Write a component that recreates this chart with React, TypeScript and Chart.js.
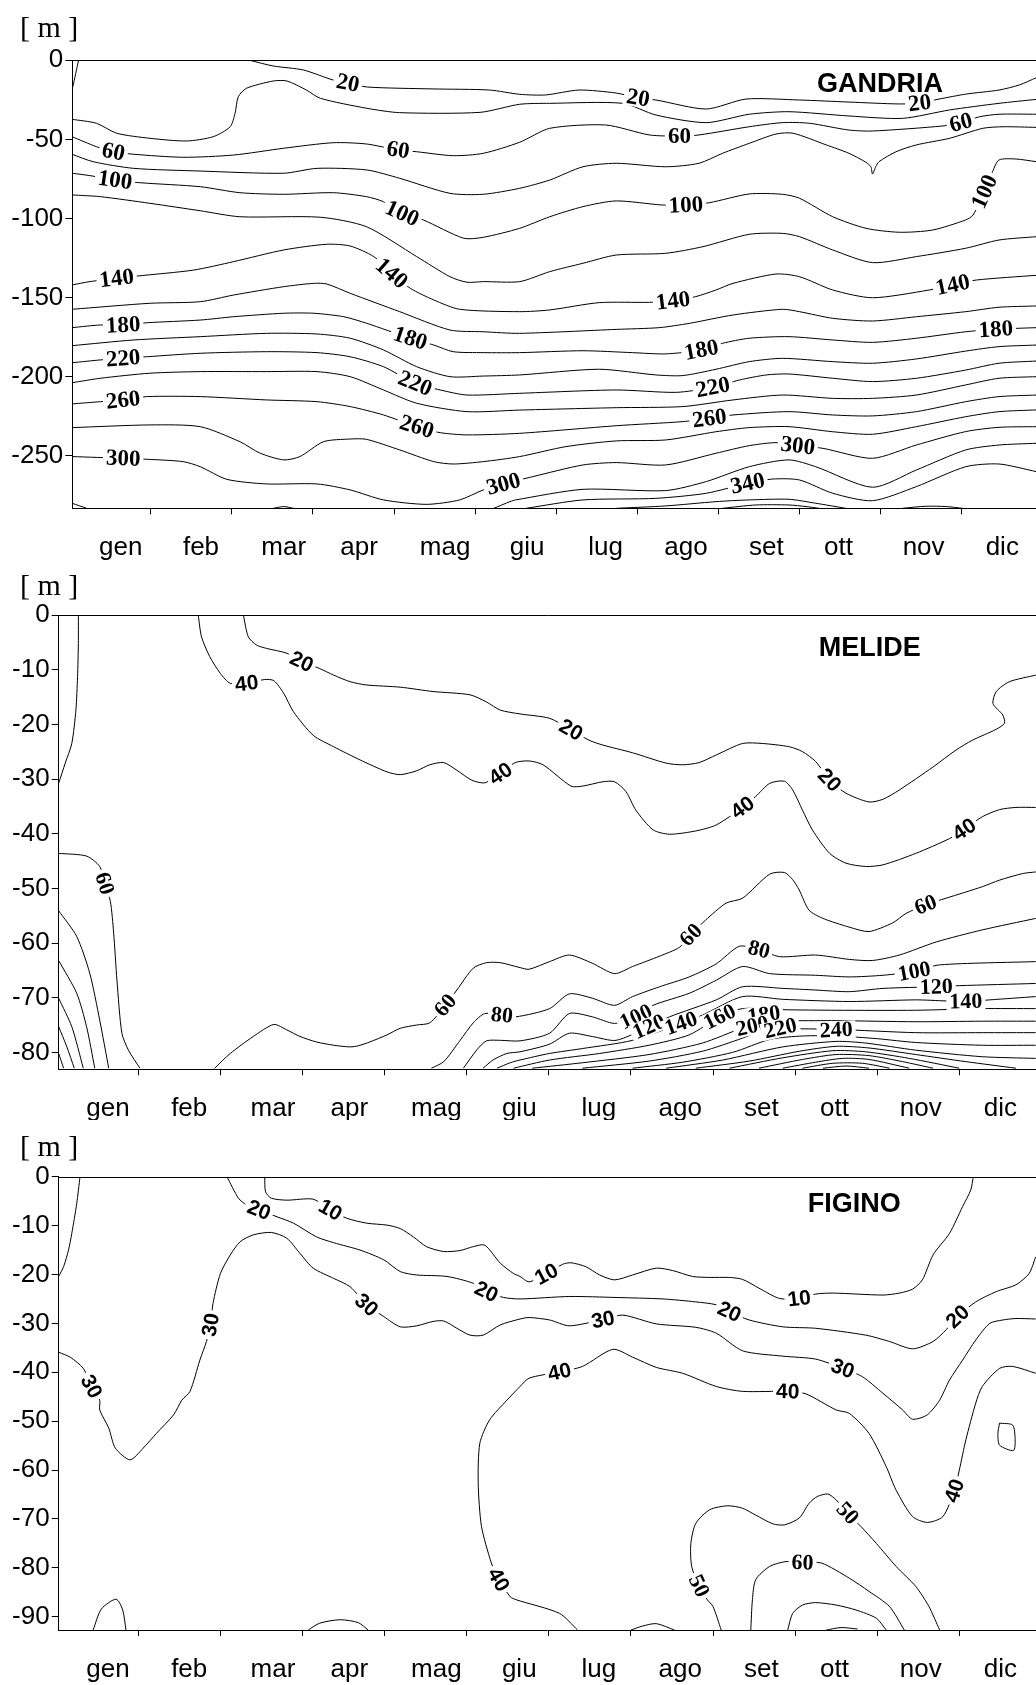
import React, { useEffect, useRef } from 'react';
import { Chart, registerables } from 'chart.js';

Chart.register(...registerables);

type P = [number, number];

// ---------------- axes ----------------
const monthLabels = ['gen', 'feb', 'mar', 'apr', 'mag', 'giu', 'lug', 'ago', 'set', 'ott', 'nov', 'dic'];
const monthLabelAt = [0.63, 1.62, 2.64, 3.57, 4.63, 5.64, 6.61, 7.6, 8.59, 9.48, 10.53, 11.5];
const monthTicks = [1, 2, 3, 4, 5, 6, 7, 8, 9, 10, 11];
const gandriaYTicks = [0, -50, -100, -150, -200, -250];
const melideYTicks = [0, -10, -20, -30, -40, -50, -60, -70, -80];
const piginoYTicks = [0, -10, -20, -30, -40, -50, -60, -70, -80, -90];

// ---------------- GANDRIA contours (x = month, y = depth m) ----------------
const gan0: P[] = [[0.11, 0], [0.04, -16.7]];
const gan20: P[] = [[2.22, 0], [2.51, -3.6], [2.88, -6.1], [3.25, -12.5], [3.43, -14.3], [3.67, -16.9], [4.48, -18.1], [5.18, -18.8], [5.55, -21.5], [5.87, -21.9], [6.28, -18.8], [6.74, -20.7], [7.01, -23.8], [7.23, -25.1], [7.85, -30.8], [8.34, -24.5], [9.0, -25.1], [9.61, -26.4], [10.23, -27.6], [10.48, -27.0], [10.72, -24.5], [11.06, -21.3], [11.46, -18.8], [11.71, -15.6], [11.92, -11.0]];
const gan40: P[] = [[0.03, -37.3], [0.33, -39.8], [0.58, -46.1], [0.99, -49.3], [1.44, -51.0], [1.77, -48.3], [1.98, -42.0], [2.04, -33.5], [2.08, -23.0], [2.18, -17.7], [2.51, -13.1], [2.68, -13.1], [2.92, -18.8], [3.09, -24.0], [3.66, -30.3], [4.07, -33.1], [5.06, -32.9], [5.55, -27.8], [5.92, -27.2], [6.82, -27.2], [7.23, -34.6], [7.85, -39.4], [8.38, -34.1], [8.87, -32.5], [9.61, -35.2], [10.27, -36.7], [10.85, -31.4], [11.46, -27.2], [11.92, -24.7]];
const gan60: P[] = [[0.03, -48.3], [0.33, -54.6], [0.54, -57.8], [0.79, -59.4], [1.4, -61.3], [2.02, -59.9], [2.64, -55.6], [3.25, -52.1], [3.66, -52.9], [4.05, -56.7], [4.28, -57.8], [4.73, -60.3], [5.1, -58.8], [5.55, -51.8], [5.92, -43.0], [6.61, -40.9], [7.15, -47.2], [7.52, -47.9], [7.76, -47.2], [8.38, -42.0], [8.79, -39.4], [9.12, -39.8], [9.61, -44.1], [9.9, -44.7], [10.77, -41.5], [10.99, -39.4], [11.22, -35.7], [11.46, -34.1], [11.92, -34.1]];
const gan80: P[] = [[0.03, -59.4], [0.29, -64.1], [0.79, -68.3], [1.61, -70.0], [2.64, -71.4], [3.05, -68.3], [3.66, -69.3], [4.07, -74.6], [4.69, -84.1], [5.1, -84.7], [5.55, -80.9], [5.92, -75.7], [6.33, -67.3], [6.74, -65.1], [7.35, -67.3], [7.76, -65.1], [8.05, -58.8], [8.38, -52.5], [8.71, -46.6], [8.92, -46.1], [9.33, -53.5], [9.61, -58.8], [9.82, -64.5], [9.88, -67.3], [9.9, -71.9], [9.94, -67.3], [9.98, -64.1], [10.19, -57.8], [10.44, -53.5], [10.85, -49.3], [11.26, -43.0], [11.51, -42.0], [11.92, -42.4]];
const gan100: P[] = [[0.03, -71.4], [0.25, -72.9], [0.56, -75.7], [0.87, -77.4], [1.61, -79.9], [2.1, -83.7], [2.64, -84.7], [3.25, -83.7], [3.66, -86.2], [3.87, -89.4], [4.1, -96.7], [4.36, -100.9], [4.86, -112.5], [5.1, -111.9], [5.55, -106.2], [5.92, -98.9], [6.33, -92.5], [6.74, -88.9], [7.31, -91.5], [7.6, -91.5], [7.89, -90.0], [8.38, -84.5], [8.79, -84.7], [9.0, -87.2], [9.41, -98.9], [9.82, -106.2], [10.23, -108.7], [10.64, -107.3], [11.05, -100.9], [11.14, -97.8], [11.28, -83.1], [11.38, -70.4], [11.46, -63.0], [11.67, -62.4], [11.92, -64.1]];
const gan120: P[] = [[0.03, -85.1], [0.38, -86.2], [0.99, -90.4], [1.61, -95.1], [2.1, -98.9], [3.09, -99.2], [3.66, -105.2], [4.28, -124.1], [4.69, -136.8], [4.9, -140.3], [5.1, -139.9], [5.55, -139.9], [5.92, -133.6], [6.33, -128.3], [6.74, -123.1], [7.35, -122.0], [7.81, -117.8], [8.38, -110.0], [8.79, -109.4], [9.0, -111.5], [9.41, -119.9], [9.9, -127.9], [10.44, -124.1], [11.05, -118.8], [11.46, -113.6], [11.92, -111.5]];
const gan140: P[] = [[0.03, -142.0], [0.25, -139.9], [0.58, -137.8], [0.83, -136.4], [1.53, -132.6], [2.02, -127.3], [2.64, -119.9], [3.17, -116.3], [3.46, -117.4], [3.75, -124.1], [3.97, -134.6], [4.2, -144.1], [4.49, -151.5], [4.81, -157.4], [5.55, -158.9], [5.92, -157.8], [6.53, -153.2], [7.15, -153.0], [7.44, -152.0], [7.72, -149.4], [7.97, -145.2], [8.18, -141.0], [8.71, -135.1], [9.0, -136.8], [9.41, -145.2], [9.9, -150.1], [10.6, -145.2], [10.89, -142.0], [11.18, -138.9], [11.92, -135.9]];
const gan160: P[] = [[0.03, -157.4], [0.99, -153.6], [1.61, -152.6], [2.02, -148.4], [2.64, -143.1], [3.01, -141.0], [3.17, -141.4], [3.46, -147.3], [4.07, -158.9], [4.69, -170.5], [5.1, -171.6], [5.55, -172.6], [6.74, -170.1], [7.27, -169.0], [7.64, -166.3], [8.18, -161.0], [8.79, -157.4], [9.0, -158.9], [9.41, -163.1], [9.9, -164.8], [10.44, -162.1], [11.05, -158.9], [11.46, -156.1], [11.92, -155.3]];
const gan180: P[] = [[0.03, -169.0], [0.38, -167.3], [0.66, -167.3], [0.95, -165.9], [1.61, -164.2], [2.02, -162.1], [2.64, -159.9], [3.01, -159.9], [3.38, -162.1], [3.66, -166.2], [4.2, -175.7], [4.49, -180.0], [4.73, -184.2], [5.1, -184.8], [5.55, -184.8], [6.33, -183.6], [6.94, -184.8], [7.35, -185.6], [7.79, -183.1], [8.05, -178.9], [8.38, -175.7], [8.87, -174.7], [9.41, -176.8], [9.9, -178.3], [10.44, -175.7], [11.05, -171.6], [11.42, -170.0], [11.92, -169.0]];
const gan200: P[] = [[0.03, -180.4], [0.79, -176.8], [1.61, -174.7], [2.43, -172.6], [3.05, -173.0], [3.46, -175.7], [3.87, -183.1], [4.28, -193.7], [4.69, -200.0], [5.1, -199.6], [5.55, -198.9], [6.53, -195.3], [7.23, -198.9], [7.56, -199.3], [7.97, -195.3], [8.38, -190.5], [8.79, -188.4], [9.41, -190.5], [9.9, -191.5], [10.44, -188.8], [11.05, -183.8], [11.46, -181.0], [11.92, -180.0]];
const gan220: P[] = [[0.03, -191.2], [0.38, -189.4], [0.66, -188.4], [0.95, -187.4], [1.61, -185.2], [2.43, -184.2], [3.05, -184.8], [3.46, -187.4], [3.87, -193.7], [4.26, -204.2], [4.57, -208.4], [4.9, -211.6], [5.55, -210.5], [6.74, -208.4], [7.48, -209.9], [7.93, -206.7], [8.26, -202.1], [8.59, -198.9], [8.87, -198.3], [9.41, -201.0], [9.9, -203.1], [10.44, -201.0], [11.05, -195.8], [11.46, -191.5], [11.92, -190.1]];
const gan240: P[] = [[0.03, -203.8], [0.38, -201.0], [0.99, -197.8], [1.61, -196.8], [2.43, -196.8], [3.05, -196.8], [3.46, -200.0], [3.87, -208.4], [4.28, -216.8], [4.9, -222.1], [5.55, -221.1], [6.74, -219.6], [7.56, -218.9], [8.18, -214.7], [8.79, -211.6], [9.41, -213.7], [9.9, -213.7], [10.44, -211.6], [11.05, -205.2], [11.46, -201.0], [11.92, -200.0]];
const gan260: P[] = [[0.03, -217.2], [0.38, -215.8], [0.66, -214.7], [0.95, -212.6], [1.61, -212.6], [2.43, -214.7], [3.05, -215.8], [3.46, -218.9], [3.87, -224.2], [4.28, -231.6], [4.57, -235.4], [4.9, -236.8], [5.55, -235.8], [6.74, -231.0], [7.56, -228.4], [7.89, -226.3], [8.18, -224.2], [8.87, -222.1], [9.41, -224.2], [9.9, -224.8], [10.44, -222.1], [11.05, -215.8], [11.46, -212.6], [11.92, -211.6]];
const gan280: P[] = [[0.03, -232.2], [0.99, -230.5], [1.61, -231.6], [2.1, -241.1], [2.35, -248.4], [2.64, -252.6], [2.84, -250.5], [3.13, -241.1], [3.46, -239.4], [3.66, -239.6], [4.07, -246.3], [4.49, -253.7], [4.73, -255.2], [5.1, -253.7], [5.55, -250.5], [6.12, -244.2], [6.74, -240.6], [7.35, -240.0], [7.97, -234.8], [8.38, -232.2], [8.87, -231.6], [9.41, -234.8], [9.9, -236.4], [10.44, -231.6], [11.05, -225.3], [11.46, -222.1], [11.92, -221.0]];
const gan300: P[] = [[0.03, -250.5], [0.66, -251.6], [0.95, -252.2], [1.4, -253.7], [1.61, -256.9], [1.94, -264.9], [2.43, -267.8], [3.05, -267.8], [3.46, -271.6], [3.87, -277.9], [4.4, -280.7], [4.81, -277.9], [5.1, -271.6], [5.35, -267.8], [5.71, -263.2], [6.33, -255.8], [6.74, -254.3], [7.35, -255.8], [7.97, -248.4], [8.38, -243.6], [8.71, -241.7], [8.98, -243.6], [9.29, -245.3], [9.9, -251.6], [10.44, -243.2], [11.05, -234.7], [11.46, -232.0], [11.92, -231.6]];
const gan320: P[] = [[5.23, -283.2], [5.43, -279.0], [5.5, -277.9], [6.33, -271.2], [7.35, -272.0], [7.85, -266.3], [8.38, -256.9], [8.87, -252.6], [9.2, -256.9], [9.9, -269.9], [10.44, -259.0], [11.05, -246.3], [11.46, -243.2], [11.92, -242.1]];
const gan320b: P[] = [[0.03, -280.0], [0.21, -283.2]];
const gan320c: P[] = [[2.51, -283.2], [2.64, -282.1], [2.76, -283.2]];
const gan340: P[] = [[5.63, -283.2], [6.33, -277.9], [7.23, -276.9], [7.85, -273.7], [8.36, -267.4], [8.67, -264.7], [9.0, -265.3], [9.41, -273.7], [9.9, -278.4], [10.44, -269.5], [11.05, -256.9], [11.46, -255.2], [11.92, -260.0]];
const gan360: P[] = [[6.74, -283.2], [7.35, -281.7], [7.97, -279.0], [8.38, -277.9], [8.87, -277.5], [9.2, -280.0], [9.57, -283.2]];
const gan380: P[] = [[8.05, -283.2], [8.46, -281.1], [8.87, -281.1], [9.08, -282.1], [9.24, -283.2]];
const gan360b: P[] = [[10.27, -283.2], [10.56, -281.9], [10.81, -282.1], [11.01, -283.2]];

// ---------------- MELIDE contours ----------------
const melA: P[] = [[0.27, 0], [0.27, -5.2], [0.26, -11.3], [0.24, -17.4], [0.19, -23.5], [0.11, -27.1], [0.03, -30.8]];
const mel40: P[] = [[1.73, 0], [1.77, -4.0], [1.87, -7.6], [2.0, -10.7], [2.12, -12.5], [2.32, -12.5], [2.54, -11.8], [2.65, -12.0], [2.77, -14.3], [2.89, -17.7], [3.13, -22.0], [3.38, -24.1], [3.7, -26.5], [4.03, -28.7], [4.19, -29.2], [4.39, -28.5], [4.55, -27.4], [4.72, -27.0], [4.88, -28.4], [5.06, -30.2], [5.22, -30.7], [5.41, -29.0], [5.59, -27.0], [5.76, -26.7], [5.93, -27.4], [6.27, -31.3], [6.41, -31.3], [6.66, -30.5], [6.8, -30.5], [6.94, -32.3], [7.06, -35.7], [7.27, -39.3], [7.47, -40.1], [7.79, -39.5], [8.04, -38.4], [8.36, -35.2], [8.52, -33.2], [8.69, -30.8], [8.87, -30.4], [8.97, -32.0], [9.09, -35.7], [9.21, -39.3], [9.42, -43.6], [9.62, -45.4], [9.86, -46.0], [10.07, -45.7], [10.47, -43.6], [10.88, -40.9], [11.06, -39.2], [11.28, -36.9], [11.49, -35.6], [11.69, -35.2], [11.93, -35.2]];
const mel20: P[] = [[2.28, 0], [2.34, -4.0], [2.44, -5.5], [2.56, -6.1], [2.81, -7.0], [2.99, -8.5], [3.21, -9.8], [3.38, -11.0], [3.58, -12.2], [3.78, -12.8], [4.19, -13.2], [4.59, -14.0], [5.04, -14.6], [5.24, -15.9], [5.41, -17.4], [5.65, -18.1], [6.01, -18.9], [6.27, -21.0], [6.49, -22.9], [6.66, -23.8], [7.02, -25.2], [7.43, -27.1], [7.63, -27.4], [7.83, -27.0], [8.04, -25.6], [8.36, -23.5], [8.6, -23.5], [8.93, -24.1], [9.09, -25.0], [9.25, -26.8], [9.42, -30.2], [9.62, -32.6], [9.9, -34.2], [10.07, -33.7], [10.27, -32.0], [10.68, -27.8], [10.96, -24.7], [11.16, -22.9], [11.45, -20.9], [11.55, -19.8], [11.53, -18.3], [11.41, -16.2], [11.45, -14.0], [11.61, -12.2], [11.93, -11.0]];
const mel60a: P[] = [[0.03, -43.6], [0.37, -44.1], [0.53, -46.0], [0.59, -49.1], [0.66, -52.4], [0.7, -58.2], [0.74, -66.8], [0.8, -76.5], [0.88, -79.6], [1.02, -82.9]];
const mel80a: P[] = [[0.03, -54.1], [0.25, -58.8], [0.41, -65.6], [0.53, -74.1], [0.64, -82.9]];
const mel100a: P[] = [[0.03, -63.2], [0.25, -69.2], [0.37, -75.3], [0.47, -82.9]];
const mel120a: P[] = [[0.03, -70.1], [0.19, -75.3], [0.33, -82.9]];
const mel140a: P[] = [[0.03, -75.3], [0.13, -79.0], [0.22, -82.9]];
const mel160a: P[] = [[0.03, -80.2], [0.09, -82.9]];
const mel60: P[] = [[1.93, -82.9], [2.12, -80.2], [2.4, -77.1], [2.65, -74.9], [2.81, -75.9], [2.97, -77.1], [3.17, -78.1], [3.38, -78.7], [3.58, -79.0], [3.68, -78.8], [3.82, -78.1], [4.03, -76.8], [4.19, -75.6], [4.39, -75.0], [4.55, -74.6], [4.74, -71.4], [4.88, -68.6], [5.08, -64.6], [5.24, -63.6], [5.41, -63.6], [5.65, -64.5], [5.76, -64.8], [6.01, -63.4], [6.25, -62.2], [6.53, -63.7], [6.8, -65.6], [7.02, -64.3], [7.35, -62.4], [7.59, -60.8], [7.73, -58.5], [7.91, -55.8], [8.16, -52.7], [8.36, -51.8], [8.69, -47.4], [8.87, -47.1], [8.97, -48.4], [9.05, -50.3], [9.17, -54.0], [9.34, -55.5], [9.66, -57.1], [9.9, -57.9], [10.19, -56.3], [10.35, -54.6], [10.59, -53.0], [10.84, -51.8], [11.28, -49.7], [11.49, -48.5], [11.77, -47.3], [11.93, -47.0]];
const mel80: P[] = [[4.57, -82.9], [4.72, -81.7], [4.92, -77.8], [5.08, -74.6], [5.22, -72.9], [5.43, -73.2], [5.6, -73.5], [6.01, -72.0], [6.25, -69.3], [6.53, -70.1], [6.8, -71.4], [7.02, -69.8], [7.35, -68.0], [7.71, -66.2], [8.04, -63.8], [8.32, -60.6], [8.56, -61.2], [8.81, -62.5], [9.25, -62.2], [9.66, -63.0], [9.94, -63.2], [10.27, -62.2], [10.72, -59.8], [11.28, -57.6], [11.93, -55.5]];
const mel100: P[] = [[4.96, -82.9], [5.12, -79.6], [5.24, -77.9], [5.41, -77.8], [5.65, -77.9], [6.01, -76.5], [6.25, -72.9], [6.53, -73.5], [6.8, -74.7], [7.06, -73.5], [7.27, -71.4], [7.71, -69.2], [8.04, -66.8], [8.36, -64.3], [8.69, -65.6], [9.25, -65.9], [9.66, -66.2], [10.07, -65.9], [10.45, -65.2], [10.76, -64.0], [11.93, -63.4]];
const mel120: P[] = [[5.2, -82.9], [5.32, -81.4], [5.49, -80.2], [5.65, -79.9], [6.01, -78.5], [6.25, -76.5], [6.53, -77.1], [6.82, -77.8], [7.22, -75.3], [7.47, -73.5], [8.04, -70.4], [8.36, -68.0], [8.85, -68.3], [9.25, -68.6], [9.66, -68.9], [10.07, -68.3], [10.72, -68.0], [11.0, -67.8], [11.93, -67.4]];
const mel140: P[] = [[5.37, -82.9], [5.53, -81.9], [5.65, -81.4], [6.01, -80.2], [6.41, -79.3], [7.02, -77.8], [7.61, -74.7], [7.87, -73.2], [8.36, -69.8], [8.85, -70.3], [9.66, -70.7], [10.47, -70.4], [10.84, -70.6], [11.08, -70.7], [11.37, -70.4], [11.93, -69.8]];
const mel160: P[] = [[5.57, -82.9], [6.01, -81.4], [6.62, -80.2], [7.22, -78.7], [7.71, -76.8], [8.08, -73.5], [8.36, -72.0], [8.85, -72.2], [9.5, -72.3], [10.47, -72.3], [11.28, -72.0], [11.93, -72.0]];
const mel180: P[] = [[5.8, -82.9], [6.41, -81.9], [7.22, -80.4], [7.87, -78.3], [8.36, -75.5], [8.65, -74.0], [8.97, -74.2], [9.5, -74.2], [10.47, -74.4], [11.28, -74.3], [11.93, -74.3]];
const mel200: P[] = [[6.41, -82.9], [7.22, -81.6], [7.87, -79.8], [8.36, -77.4], [8.6, -76.0], [8.85, -75.7], [9.5, -75.8], [10.47, -76.4], [11.28, -76.4], [11.93, -76.4]];
const mel220: P[] = [[7.02, -82.9], [7.63, -81.8], [8.24, -80.0], [8.7, -77.6], [9.1, -77.0], [9.5, -77.0], [10.0, -77.5], [10.47, -78.2], [11.28, -78.7], [11.93, -78.7]];
const mel240: P[] = [[7.43, -82.9], [8.12, -81.4], [8.85, -79.0], [9.5, -78.0], [9.86, -78.3], [10.47, -79.6], [11.28, -80.8], [11.93, -81.1]];
const mel260: P[] = [[7.79, -82.9], [8.44, -81.6], [9.05, -79.8], [9.5, -78.9], [9.9, -79.2], [10.47, -80.4], [11.08, -81.7], [11.69, -82.9]];
const mel280: P[] = [[8.2, -82.9], [8.85, -81.0], [9.46, -79.7], [9.86, -79.9], [10.39, -81.1], [11.0, -82.9]];
const mel300: P[] = [[8.56, -82.9], [9.09, -81.3], [9.5, -80.4], [9.9, -80.6], [10.31, -81.7], [10.68, -82.9]];
const mel320: P[] = [[8.85, -82.9], [9.25, -81.8], [9.58, -81.1], [9.9, -81.3], [10.39, -82.9]];
const mel340: P[] = [[9.09, -82.9], [9.46, -82.0], [9.82, -82.0], [10.15, -82.9]];
const mel360: P[] = [[9.34, -82.9], [9.62, -82.5], [9.9, -82.9]];

// ---------------- FIGINO contours ----------------
const figA: P[] = [[0.29, 0], [0.25, -5.5], [0.19, -11.6], [0.15, -15.0], [0.09, -18.4], [0.03, -20.4]];
const fig20: P[] = [[2.08, 0], [2.22, -4.4], [2.32, -5.8], [2.47, -6.8], [2.69, -8.2], [2.89, -9.5], [3.17, -12.3], [3.38, -13.5], [3.7, -15.0], [3.99, -17.0], [4.19, -19.4], [4.39, -20.1], [4.76, -20.4], [5.08, -21.8], [5.24, -23.5], [5.45, -24.7], [5.65, -25.0], [6.25, -24.5], [6.82, -24.7], [7.39, -25.0], [7.79, -25.6], [8.04, -26.2], [8.2, -27.6], [8.44, -29.3], [8.85, -30.7], [9.25, -31.0], [9.86, -32.4], [10.15, -33.7], [10.43, -35.2], [10.68, -33.7], [10.84, -31.3], [10.98, -28.6], [11.2, -25.6], [11.45, -23.5], [11.69, -22.1], [11.85, -19.8], [11.93, -16.4]];
const fig10: P[] = [[2.54, 0], [2.55, -3.1], [2.62, -4.4], [2.81, -4.8], [3.13, -4.6], [3.34, -6.8], [3.54, -8.5], [3.78, -9.5], [4.03, -9.9], [4.19, -10.6], [4.35, -12.3], [4.51, -14.3], [4.72, -15.3], [4.92, -15.1], [5.08, -14.3], [5.22, -14.0], [5.41, -17.7], [5.57, -19.8], [5.65, -20.4], [5.76, -21.5], [5.97, -19.9], [6.17, -17.9], [6.27, -17.6], [6.45, -18.4], [6.62, -20.1], [6.8, -21.1], [7.02, -20.1], [7.31, -18.7], [7.51, -19.2], [7.75, -20.4], [7.96, -20.6], [8.2, -20.6], [8.36, -21.0], [8.56, -22.8], [8.81, -24.9], [9.05, -24.9], [9.25, -24.0], [9.46, -23.8], [10.07, -24.2], [10.27, -23.8], [10.43, -23.0], [10.55, -21.1], [10.68, -16.0], [10.88, -11.6], [11.04, -6.1], [11.14, -2.7], [11.17, 0]];
const fig30: P[] = [[0.03, -35.9], [0.17, -36.9], [0.33, -39.2], [0.43, -42.9], [0.53, -45.7], [0.53, -47.7], [0.64, -51.4], [0.72, -55.5], [0.9, -57.9], [1.06, -55.5], [1.22, -52.5], [1.43, -48.7], [1.53, -45.7], [1.63, -43.9], [1.75, -37.5], [1.83, -33.7], [1.88, -30.3], [1.91, -25.9], [2.0, -19.8], [2.12, -16.0], [2.24, -13.3], [2.4, -11.9], [2.62, -11.4], [2.81, -12.6], [2.97, -15.7], [3.13, -18.7], [3.38, -20.8], [3.58, -22.5], [3.78, -26.2], [3.99, -28.6], [4.19, -30.7], [4.39, -30.5], [4.59, -29.6], [4.72, -29.5], [4.88, -31.0], [5.04, -32.4], [5.2, -32.4], [5.41, -30.3], [5.65, -29.1], [5.76, -28.8], [6.01, -29.3], [6.25, -30.5], [6.66, -29.2], [6.9, -28.3], [7.31, -30.1], [7.79, -30.8], [8.04, -32.0], [8.36, -35.6], [8.85, -36.7], [9.25, -37.3], [9.58, -39.2], [9.82, -40.9], [10.07, -44.3], [10.31, -47.7], [10.43, -49.6], [10.61, -48.7], [10.76, -45.7], [10.88, -41.6], [11.04, -37.5], [11.2, -33.4], [11.37, -30.0], [11.53, -29.3], [11.69, -29.0], [11.93, -29.1]];
const fig40: P[] = [[6.35, -92.7], [6.13, -89.3], [5.6, -86.5], [5.53, -85.9], [5.39, -82.4], [5.3, -79.0], [5.18, -71.5], [5.14, -62.7], [5.16, -54.5], [5.28, -49.7], [5.49, -45.7], [5.65, -42.9], [5.76, -41.2], [6.13, -39.9], [6.41, -38.8], [6.78, -35.3], [7.02, -36.9], [7.31, -39.0], [7.63, -40.2], [8.04, -42.9], [8.36, -43.9], [8.91, -43.9], [9.13, -44.4], [9.5, -47.7], [9.66, -48.4], [9.9, -52.5], [10.11, -59.3], [10.23, -64.1], [10.43, -69.5], [10.61, -70.7], [10.8, -69.5], [10.94, -64.2], [11.0, -60.0], [11.08, -53.8], [11.2, -46.3], [11.28, -42.9], [11.49, -39.2], [11.65, -38.8], [11.93, -40.2]];
const fig40loop: P[] = [[11.49, -50.4], [11.65, -50.8], [11.68, -53.8], [11.66, -56.0], [11.49, -54.9], [11.47, -52.5], [11.49, -50.4]];
const fig50: P[] = [[8.1, -92.7], [8.0, -87.9], [7.93, -86.5], [7.83, -83.7], [7.74, -79.7], [7.73, -75.0], [7.79, -70.9], [7.96, -68.1], [8.18, -67.3], [8.36, -67.8], [8.52, -69.2], [8.73, -71.0], [8.87, -71.2], [9.05, -69.8], [9.17, -66.8], [9.27, -65.4], [9.4, -64.9], [9.5, -66.1], [9.64, -68.8], [9.8, -71.5], [9.99, -75.0], [10.23, -79.7], [10.47, -83.8], [10.63, -87.9], [10.76, -92.7]];
const fig60: P[] = [[8.46, -92.7], [8.48, -86.5], [8.52, -82.4], [8.69, -79.7], [8.89, -78.7], [9.09, -78.9], [9.32, -79.0], [9.66, -82.1], [9.9, -84.8], [10.15, -87.9], [10.33, -92.7]];
const fig70: P[] = [[8.91, -92.7], [8.97, -89.3], [9.09, -87.6], [9.25, -87.1], [9.5, -87.6], [9.74, -88.6], [9.99, -90.3], [10.11, -92.7]];
const fig80: P[] = [[9.38, -92.7], [9.56, -92.2], [9.76, -92.5]];
const fig50b: P[] = [[7.0, -92.7], [7.14, -91.9], [7.31, -91.4], [7.53, -92.7]];
const fig40b: P[] = [[0.45, -92.7], [0.55, -88.4], [0.73, -86.4], [0.81, -88.6], [0.85, -92.7]];
const fig40c: P[] = [[3.07, -92.7], [3.21, -91.3], [3.46, -90.6], [3.68, -91.2], [3.8, -92.7]];

// ---------------- panel setup ----------------
interface Line { pts: P[]; text?: string; at?: P[]; sans?: boolean }
interface Panel {
  top: number; height: number; padTop: number; axisH: number; axisW: number;
  xMin: number; xMax: number; yMin: number; yTicks: number[];
  title: string; titleX: number; titleY: number; unitY: number; labelSize: number;
  lines: Line[];
}

const panels: Panel[] = [
  {
    top: 0, height: 560, padTop: 60.3, axisH: 51.7, axisW: 72.3,
    xMin: 0.033, xMax: 11.916, yMin: -283.2, yTicks: gandriaYTicks,
    title: 'GANDRIA', titleX: 817, titleY: 92, unitY: 37, labelSize: 23,
    lines: [
      { pts: gan0 },
      { pts: gan20, text: '20', at: [[3.43, -14.3], [7.01, -23.8], [10.48, -27.0]] },
      { pts: gan40 },
      { pts: gan60, text: '60', at: [[0.54, -57.8], [4.05, -56.7], [7.52, -47.9], [10.99, -39.4]] },
      { pts: gan80 },
      { pts: gan100, text: '100', at: [[0.56, -75.7], [4.1, -96.7], [7.6, -91.5], [11.28, -83.1]] },
      { pts: gan120 },
      { pts: gan140, text: '140', at: [[0.58, -137.8], [3.97, -134.6], [7.44, -152.0], [10.89, -142.0]] },
      { pts: gan160 },
      { pts: gan180, text: '180', at: [[0.66, -167.3], [4.2, -175.7], [7.79, -183.1], [11.42, -170.0]] },
      { pts: gan200 },
      { pts: gan220, text: '220', at: [[0.66, -188.4], [4.26, -204.2], [7.93, -206.7]] },
      { pts: gan240 },
      { pts: gan260, text: '260', at: [[0.66, -214.7], [4.28, -231.6], [7.89, -226.3]] },
      { pts: gan280 },
      { pts: gan300, text: '300', at: [[0.66, -251.6], [5.35, -267.8], [8.98, -243.6]] },
      { pts: gan320 },
      { pts: gan320b },
      { pts: gan320c },
      { pts: gan340, text: '340', at: [[8.36, -267.4]] },
      { pts: gan360 },
      { pts: gan380 },
      { pts: gan360b },
    ],
  },
  {
    top: 560, height: 560, padTop: 55, axisH: 50.7, axisW: 58.7,
    xMin: 0.0305, xMax: 11.934, yMin: -83.1, yTicks: melideYTicks,
    title: 'MELIDE', titleX: 818.7, titleY: 96, unitY: 35, labelSize: 22,
    lines: [
      { pts: melA },
      { pts: mel40, text: '40', sans: true, at: [[2.32, -12.5], [5.41, -29.0], [8.36, -35.2], [11.06, -39.2]] },
      { pts: mel20, text: '20', sans: true, at: [[2.99, -8.5], [6.27, -21.0], [9.42, -30.2]] },
      { pts: mel60a, text: '60', at: [[0.59, -49.1]] },
      { pts: mel80a }, { pts: mel100a }, { pts: mel120a }, { pts: mel140a }, { pts: mel160a },
      { pts: mel60, text: '60', at: [[4.74, -71.4], [7.73, -58.5], [10.59, -53.0]] },
      { pts: mel80, text: '80', at: [[5.43, -73.2], [8.56, -61.2]] },
      { pts: mel100, text: '100', at: [[7.06, -73.5], [10.45, -65.2]] },
      { pts: mel120, text: '120', at: [[7.22, -75.3], [10.72, -68.0]] },
      { pts: mel140, text: '140', at: [[7.61, -74.7], [11.08, -70.7]] },
      { pts: mel160, text: '160', at: [[8.08, -73.5]] },
      { pts: mel180, text: '180', at: [[8.62, -73.1]] },
      { pts: mel200, text: '200', at: [[8.48, -75.2]] },
      { pts: mel220, text: '220', at: [[8.82, -75.6]] },
      { pts: mel240, text: '240', at: [[9.5, -75.9]] },
      { pts: mel260 }, { pts: mel280 }, { pts: mel300 }, { pts: mel320 }, { pts: mel340 }, { pts: mel360 },
    ],
  },
  {
    top: 1120, height: 565, padTop: 56.7, axisH: 55, axisW: 58.7,
    xMin: 0.0305, xMax: 11.934, yMin: -92.7, yTicks: piginoYTicks,
    title: 'FIGINO', titleX: 807.7, titleY: 92.3, unitY: 36, labelSize: 22,
    lines: [
      { pts: figA },
      { pts: fig20, text: '20', sans: true, at: [[2.47, -6.8], [5.24, -23.5], [8.2, -27.6], [10.98, -28.6]] },
      { pts: fig10, text: '10', sans: true, at: [[3.34, -6.8], [5.97, -19.9], [9.05, -24.9]] },
      { pts: fig30, text: '30', sans: true, at: [[0.43, -42.9], [1.88, -30.3], [3.78, -26.2], [6.66, -29.2], [9.58, -39.2]] },
      { pts: fig40, text: '40', sans: true, at: [[5.39, -82.4], [6.13, -39.9], [8.91, -43.9], [10.94, -64.2]] },
      { pts: fig40loop },
      { pts: fig50, text: '50', at: [[7.83, -83.7], [9.64, -68.8]] },
      { pts: fig60, text: '60', at: [[9.09, -78.9]] },
      { pts: fig70 }, { pts: fig80 }, { pts: fig50b }, { pts: fig40b }, { pts: fig40c },
    ],
  },
];

function makeDecor(p: Panel) {
  return {
    id: 'decor',
    afterDatasetsDraw(chart: any) {
      const { ctx, chartArea: a } = chart;
      const xs = chart.scales.x;
      const ys = chart.scales.y;
      ctx.save();
      // top frame line
      ctx.strokeStyle = '#000';
      ctx.lineWidth = 1;
      ctx.beginPath();
      ctx.moveTo(a.left, Math.round(a.top) + 0.5);
      ctx.lineTo(a.right, Math.round(a.top) + 0.5);
      ctx.stroke();
      // contour labels
      p.lines.forEach((ln, di) => {
        if (!ln.text || !ln.at) return;
        const els = chart.getDatasetMeta(di).data;
        const font = ln.sans
          ? `bold ${p.labelSize - 1}px "Liberation Sans"`
          : `bold ${p.labelSize}px "Liberation Serif"`;
        ctx.font = font;
        const w = ctx.measureText(ln.text).width;
        ln.at.forEach(([vx, vy]) => {
          const px = xs.getPixelForValue(vx);
          const py = ys.getPixelForValue(vy);
          let bi = 0;
          let bd = Infinity;
          for (let i = 0; i < els.length; i++) {
            const dx = els[i].x - px;
            const dy = els[i].y - py;
            const d = dx * dx + dy * dy;
            if (d < bd) { bd = d; bi = i; }
          }
          const e0 = els[Math.max(0, bi - 1)];
          const e1 = els[Math.min(els.length - 1, bi + 1)];
          let ang = Math.atan2(e1.y - e0.y, e1.x - e0.x);
          if (ang > Math.PI / 2) ang -= Math.PI;
          if (ang < -Math.PI / 2) ang += Math.PI;
          ctx.save();
          ctx.translate(px, py);
          ctx.rotate(ang);
          const h = p.labelSize * 0.8;
          ctx.fillStyle = '#fff';
          ctx.fillRect(-w / 2 - 3, -h / 2, w + 6, h);
          ctx.fillStyle = '#000';
          ctx.font = font;
          ctx.textAlign = 'center';
          ctx.textBaseline = 'middle';
          ctx.fillText(ln.text, 0, 1);
          ctx.restore();
        });
      });
      // title, unit, month labels
      ctx.fillStyle = '#000';
      ctx.textBaseline = 'alphabetic';
      ctx.textAlign = 'left';
      ctx.font = 'bold 27px "Liberation Sans"';
      ctx.fillText(p.title, p.titleX, p.titleY);
      ctx.font = '30px "Liberation Serif"';
      ctx.fillText('[ m ]', 20, p.unitY);
      ctx.font = '26px "Liberation Sans"';
      ctx.textAlign = 'center';
      monthLabels.forEach((m, i) => {
        ctx.fillText(m, xs.getPixelForValue(monthLabelAt[i]), a.bottom + 47);
      });
      ctx.restore();
    },
  };
}

function PanelChart({ p }: { p: Panel }) {
  const ref = useRef<HTMLCanvasElement>(null);
  useEffect(() => {
    const chart = new Chart(ref.current as HTMLCanvasElement, {
      type: 'line',
      data: {
        datasets: p.lines.map((l) => ({
          data: l.pts.map(([x, y]) => ({ x, y })),
          borderColor: '#000',
          borderWidth: 1,
          pointRadius: 0,
          tension: 0.25,
          fill: false,
        })),
      },
      options: {
        animation: false,
        responsive: false,
        maintainAspectRatio: false,
        events: [],
        layout: { padding: { top: p.padTop, left: 0, right: 0, bottom: 0 } },
        plugins: { legend: { display: false }, tooltip: { enabled: false }, title: { display: false } },
        scales: {
          x: {
            type: 'linear',
            min: p.xMin,
            max: p.xMax,
            afterBuildTicks: (s: any) => { s.ticks = monthTicks.map((v) => ({ value: v })); },
            afterFit: (s: any) => { s.height = p.axisH; },
            ticks: { display: false },
            grid: { display: true, drawOnChartArea: false, drawTicks: true, tickLength: 6, color: '#000', lineWidth: 1 },
            border: { display: true, color: '#000', width: 1 },
          },
          y: {
            type: 'linear',
            min: p.yMin,
            max: 0,
            afterBuildTicks: (s: any) => { s.ticks = p.yTicks.map((v) => ({ value: v })); },
            afterFit: (s: any) => { s.width = p.axisW; },
            ticks: {
              color: '#000',
              padding: 2,
              autoSkip: false,
              font: { family: 'Liberation Sans', size: 26 },
              callback: (v: any) => String(v),
            },
            grid: { display: true, drawOnChartArea: false, drawTicks: true, tickLength: 7, color: '#000', lineWidth: 1 },
            border: { display: true, color: '#000', width: 1 },
          },
        },
      } as any,
      plugins: [makeDecor(p)],
    });
    return () => chart.destroy();
  }, []);
  return (
    <canvas
      ref={ref}
      width={1036}
      height={p.height}
      style={{ position: 'absolute', left: 0, top: p.top, width: 1036, height: p.height }}
    />
  );
}

export default function App() {
  return (
    <div style={{ position: 'absolute', left: 0, top: 0, width: 1036, height: 1685, background: '#fff' }}>
      {panels.map((p, i) => <PanelChart key={i} p={p} />)}
    </div>
  );
}
